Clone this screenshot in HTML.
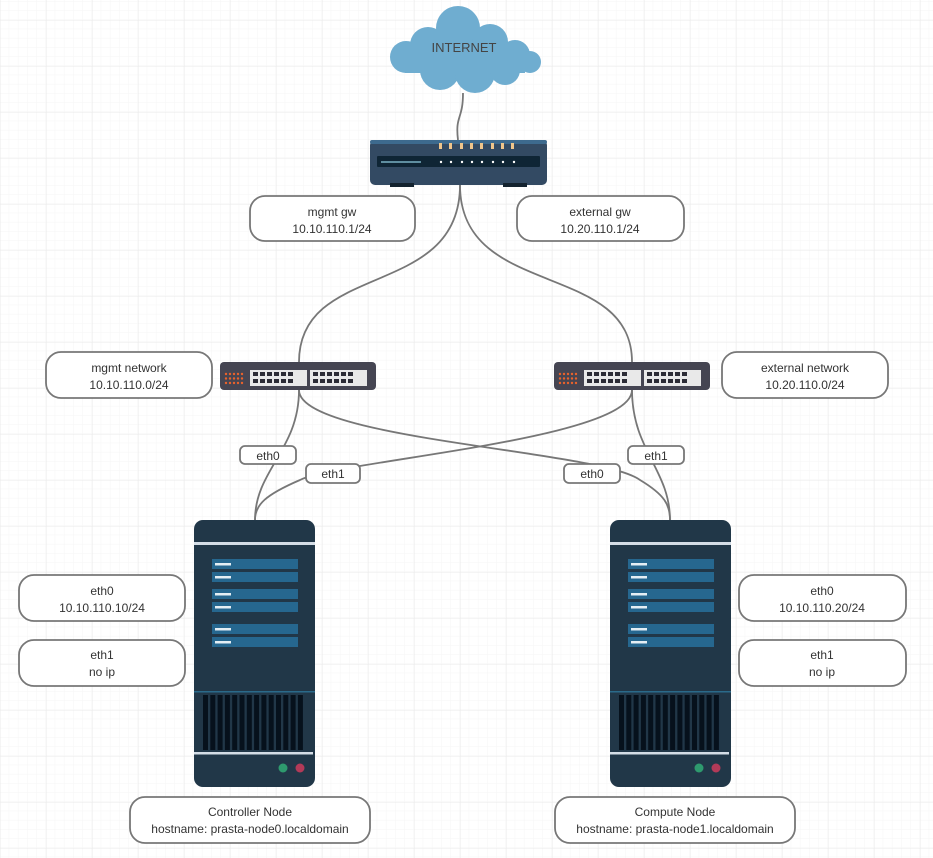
<!DOCTYPE html>
<html><head><meta charset="utf-8"><style>
html,body{margin:0;padding:0;background:#fff;}
svg{display:block;}
text{font-family:"Liberation Sans",sans-serif;font-size:12px;fill:#333;text-anchor:middle;}
</style></head><body>
<svg width="933" height="858" viewBox="0 0 933 858" xmlns="http://www.w3.org/2000/svg">
<defs>
<pattern id="minor" x="0" y="1.6" width="9.2" height="9.2" patternUnits="userSpaceOnUse">
<path d="M9.2 0V9.2M0 9.2H9.2" stroke="#f5f5f5" stroke-width="1" fill="none"/>
</pattern>
<pattern id="major" x="0" y="20" width="46" height="46" patternUnits="userSpaceOnUse">
<path d="M0 0V46M0 0H46" stroke="#ebebeb" stroke-width="1" fill="none"/>
</pattern>
<g id="srv">
<rect x="0" y="0" width="121" height="267" rx="9" fill="#213748"/>
<rect x="0" y="22" width="121" height="3" fill="#d4dde6"/>
<rect x="18" y="39" width="86" height="10" fill="#26678f"/>
<rect x="18" y="52" width="86" height="10" fill="#26678f"/>
<rect x="18" y="69" width="86" height="10" fill="#26678f"/>
<rect x="18" y="82" width="86" height="10" fill="#26678f"/>
<rect x="18" y="104" width="86" height="10" fill="#26678f"/>
<rect x="18" y="117" width="86" height="10" fill="#26678f"/>
<g fill="#e4eef4"><rect x="21" y="43" width="16" height="2.5"/><rect x="21" y="56" width="16" height="2.5"/><rect x="21" y="73" width="16" height="2.5"/><rect x="21" y="86" width="16" height="2.5"/><rect x="21" y="108" width="16" height="2.5"/><rect x="21" y="121" width="16" height="2.5"/></g>
<rect x="0" y="171" width="121" height="1.5" fill="#2a6a8a"/>
<g fill="#06111c">
<rect x="9" y="175" width="5" height="55"/><rect x="16.3" y="175" width="5" height="55"/><rect x="23.6" y="175" width="5" height="55"/><rect x="30.9" y="175" width="5" height="55"/><rect x="38.2" y="175" width="5" height="55"/><rect x="45.5" y="175" width="5" height="55"/><rect x="52.8" y="175" width="5" height="55"/><rect x="60.1" y="175" width="5" height="55"/><rect x="67.4" y="175" width="5" height="55"/><rect x="74.7" y="175" width="5" height="55"/><rect x="82" y="175" width="5" height="55"/><rect x="89.3" y="175" width="5" height="55"/><rect x="96.6" y="175" width="5" height="55"/><rect x="103.9" y="175" width="5" height="55"/>
</g>
<rect x="0" y="232" width="119" height="2.5" fill="#d4dde6"/>
<circle cx="89" cy="248" r="4.5" fill="#2e9a6e"/>
<circle cx="106" cy="248" r="4.5" fill="#b23a58"/>
</g>
<g id="sw">
<rect x="0" y="0" width="156" height="28" rx="4" fill="#454552"/>
<g fill="#e8622c">
<circle cx="6" cy="12" r="1.2"/><circle cx="10" cy="12" r="1.2"/><circle cx="14" cy="12" r="1.2"/><circle cx="18" cy="12" r="1.2"/><circle cx="22" cy="12" r="1.2"/>
<circle cx="6" cy="16.5" r="1.2"/><circle cx="10" cy="16.5" r="1.2"/><circle cx="14" cy="16.5" r="1.2"/><circle cx="18" cy="16.5" r="1.2"/><circle cx="22" cy="16.5" r="1.2"/>
<circle cx="6" cy="21" r="1.2"/><circle cx="10" cy="21" r="1.2"/><circle cx="14" cy="21" r="1.2"/><circle cx="18" cy="21" r="1.2"/><circle cx="22" cy="21" r="1.2"/>
</g>
<rect x="30" y="8" width="57" height="16" fill="#e9e9e9"/>
<rect x="90" y="8" width="57" height="16" fill="#e9e9e9"/>
<g fill="#2c2c36">
<rect x="33" y="10" width="5" height="4"/><rect x="40" y="10" width="5" height="4"/><rect x="47" y="10" width="5" height="4"/><rect x="54" y="10" width="5" height="4"/><rect x="61" y="10" width="5" height="4"/><rect x="68" y="10" width="5" height="4"/>
<rect x="33" y="17" width="5" height="4"/><rect x="40" y="17" width="5" height="4"/><rect x="47" y="17" width="5" height="4"/><rect x="54" y="17" width="5" height="4"/><rect x="61" y="17" width="5" height="4"/><rect x="68" y="17" width="5" height="4"/>
<rect x="93" y="10" width="5" height="4"/><rect x="100" y="10" width="5" height="4"/><rect x="107" y="10" width="5" height="4"/><rect x="114" y="10" width="5" height="4"/><rect x="121" y="10" width="5" height="4"/><rect x="128" y="10" width="5" height="4"/>
<rect x="93" y="17" width="5" height="4"/><rect x="100" y="17" width="5" height="4"/><rect x="107" y="17" width="5" height="4"/><rect x="114" y="17" width="5" height="4"/><rect x="121" y="17" width="5" height="4"/><rect x="128" y="17" width="5" height="4"/>
</g>
</g>
</defs>
<rect width="933" height="858" fill="url(#minor)"/>
<rect width="933" height="858" fill="url(#major)"/>

<g fill="none" stroke="#777" stroke-width="1.8">
<path d="M463 93 C463 120 455 115 458 140"/>
<path d="M460 185 C460 300 299 260 299 362"/>
<path d="M460 185 C460 300 632 260 632 362"/>
<path d="M299 390 C299 450 255 470 255 520"/>
<path d="M299 390 C299 440 600 450 640 480 C665 495 670 505 670 520"/>
<path d="M632 390 C632 450 670 470 670 520"/>
<path d="M632 390 C632 440 340 460 300 480 C265 495 255 505 255 520"/>
</g>

<g fill="#6fadd0">
<circle cx="458" cy="28" r="22"/><circle cx="428" cy="45" r="18"/><circle cx="406" cy="57" r="16"/><circle cx="490" cy="42" r="18"/><circle cx="515" cy="55" r="15"/><circle cx="530" cy="62" r="11"/><circle cx="440" cy="70" r="20"/><circle cx="475" cy="73" r="20"/><circle cx="505" cy="70" r="15"/>
<rect x="405" y="45" width="120" height="28"/>
</g>
<text x="464" y="52" style="font-size:13px;fill:#444">INTERNET</text>

<rect x="370" y="140" width="177" height="45" rx="5" fill="#334a63"/>
<rect x="370" y="140" width="177" height="4" rx="2" fill="#3d6a8e"/>
<rect x="390" y="183" width="24" height="4" fill="#14232f"/>
<rect x="503" y="183" width="24" height="4" fill="#14232f"/>
<rect x="377" y="156" width="163" height="11" rx="1" fill="#0f2535"/>
<rect x="381" y="161" width="40" height="2" fill="#5f8ea0"/>
<g fill="#f0c58a"><rect x="439" y="143" width="3" height="6"/><rect x="449" y="143" width="3" height="6"/><rect x="460" y="143" width="3" height="6"/><rect x="470" y="143" width="3" height="6"/><rect x="480" y="143" width="3" height="6"/><rect x="491" y="143" width="3" height="6"/><rect x="501" y="143" width="3" height="6"/><rect x="511" y="143" width="3" height="6"/></g>
<g fill="#fff"><circle cx="441" cy="162" r="1.2"/><circle cx="451" cy="162" r="1.2"/><circle cx="462" cy="162" r="1.2"/><circle cx="472" cy="162" r="1.2"/><circle cx="482" cy="162" r="1.2"/><circle cx="493" cy="162" r="1.2"/><circle cx="503" cy="162" r="1.2"/><circle cx="514" cy="162" r="1.2"/></g>

<use href="#sw" x="220" y="362"/>
<use href="#sw" x="554" y="362"/>

<use href="#srv" x="194" y="520"/>
<use href="#srv" x="610" y="520"/>

<g fill="#fff" stroke="#777" stroke-width="1.8">
<rect x="250" y="196" width="165" height="45" rx="15"/>
<rect x="517" y="196" width="167" height="45" rx="15"/>
<rect x="46" y="352" width="166" height="46" rx="15"/>
<rect x="722" y="352" width="166" height="46" rx="15"/>
<rect x="19" y="575" width="166" height="46" rx="15"/>
<rect x="19" y="640" width="166" height="46" rx="15"/>
<rect x="739" y="575" width="167" height="46" rx="15"/>
<rect x="739" y="640" width="167" height="46" rx="15"/>
<rect x="130" y="797" width="240" height="46" rx="15"/>
<rect x="555" y="797" width="240" height="46" rx="15"/>
<rect x="240" y="446" width="56" height="18" rx="5"/>
<rect x="306" y="464" width="54" height="19" rx="5"/>
<rect x="564" y="464" width="56" height="19" rx="5"/>
<rect x="628" y="446" width="56" height="18" rx="5"/>
</g>
<text x="332" y="216">mgmt gw</text><text x="332" y="233">10.10.110.1/24</text>
<text x="600" y="216">external gw</text><text x="600" y="233">10.20.110.1/24</text>
<text x="129" y="372">mgmt network</text><text x="129" y="389">10.10.110.0/24</text>
<text x="805" y="372">external network</text><text x="805" y="389">10.20.110.0/24</text>
<text x="102" y="595">eth0</text><text x="102" y="612">10.10.110.10/24</text>
<text x="102" y="659">eth1</text><text x="102" y="676">no ip</text>
<text x="822" y="595">eth0</text><text x="822" y="612">10.10.110.20/24</text>
<text x="822" y="659">eth1</text><text x="822" y="676">no ip</text>
<text x="250" y="816">Controller Node</text><text x="250" y="833">hostname: prasta-node0.localdomain</text>
<text x="675" y="816">Compute Node</text><text x="675" y="833">hostname: prasta-node1.localdomain</text>
<text x="268" y="460">eth0</text>
<text x="333" y="478">eth1</text>
<text x="592" y="478">eth0</text>
<text x="656" y="460">eth1</text>
</svg>
</body></html>
